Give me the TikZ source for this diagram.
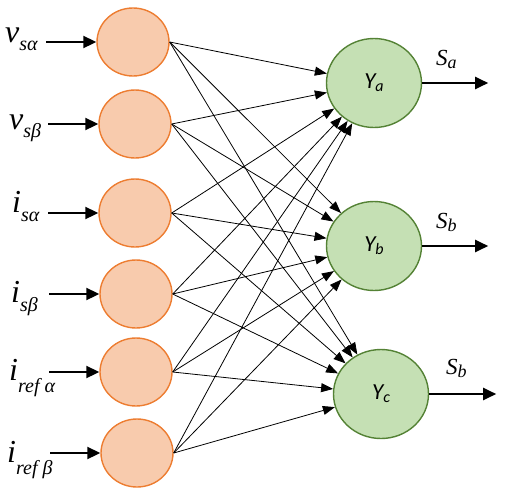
\documentclass[tikz,border=0pt]{standalone}
\usepackage{fontspec}
\setmainfont{Liberation Serif}
\newfontfamily\carlitofont{Carlito}
\usetikzlibrary{arrows.meta,shapes.geometric}
\newcommand{\inlbl}[3]{{\itshape\fontsize{32}{34}\selectfont #1\raisebox{-#3}{\fontsize{20}{22}\selectfont #2}}}
\newcommand{\outlbl}[1]{{\carlitofont\itshape\fontsize{23}{24}\selectfont Y\raisebox{-3pt}{\fontsize{16}{18}\selectfont #1}}}
\newcommand{\slbl}[1]{{\itshape\fontsize{23}{24}\selectfont S\raisebox{-3pt}{\fontsize{18}{19}\selectfont #1}}}
\begin{document}
\begin{tikzpicture}[x=1pt,y=-1pt,
  inneuron/.style={ellipse,draw=inorangeb,fill=inorange,line width=1.4pt,minimum width=72pt,minimum height=68pt,inner sep=0pt},
  outneuron/.style={ellipse,draw=outgreenb,fill=outgreen,line width=1.4pt,minimum width=95pt,minimum height=89pt,inner sep=0pt},
  conn/.style={line width=0.8pt,-{Triangle[length=12pt,width=9pt]}},
  ioarrow/.style={line width=2pt,-{Triangle[length=13pt,width=12pt]}}]
\definecolor{inorange}{RGB}{248,203,173}
\definecolor{inorangeb}{RGB}{237,125,49}
\definecolor{outgreen}{RGB}{197,224,180}
\definecolor{outgreenb}{RGB}{84,130,53}
\useasboundingbox (0,0) rectangle (521,498);
% input neurons
\node[inneuron] (i1) at (133,42) {};
\node[inneuron] (i2) at (135,124) {};
\node[inneuron] (i3) at (135,213) {};
\node[inneuron] (i4) at (136,294) {};
\node[inneuron] (i5) at (136,372) {};
\node[inneuron] (i6) at (137,453) {};
% output neurons
\node[outneuron] (o1) at (374,83) {\outlbl{a}};
\node[outneuron] (o2) at (374,246) {\outlbl{b}};
\node[outneuron] (o3) at (381,394) {\outlbl{c}};
% connections
\foreach \i in {1,...,6}{
  \foreach \o in {1,2,3}{
    \draw[conn] (i\i.east) -- (o\o);
  }
}
% input arrows
\foreach \i in {1,...,6}{
  \coordinate (s\i) at ([xshift=-50pt]i\i.west);
  \draw[ioarrow] (s\i) -- (i\i.west);
}
% input labels
\node[anchor=base west,inner sep=0pt] (l1) at (5,42) {\inlbl{v}{sα}{8pt}};
\node[anchor=base west,inner sep=0pt] (l2) at (9,129) {\inlbl{v}{sβ}{8pt}};
\node[anchor=base west,inner sep=0pt] (l3) at (12,212) {\inlbl{i}{sα}{9pt}};
\node[anchor=base west,inner sep=0pt] (l4) at (11,302) {\inlbl{i}{sβ}{9pt}};
\node[anchor=base west,inner sep=0pt] (l5) at (9,380) {\inlbl{i}{ref α}{12pt}};
\node[anchor=base west,inner sep=0pt] (l6) at (7,462) {\inlbl{i}{ref β}{12pt}};
% outputs
\coordinate (e1) at ([xshift=66pt]o1.east);
\coordinate (e2) at ([xshift=66pt]o2.east);
\coordinate (e3) at ([xshift=67pt]o3.east);
\draw[ioarrow] (o1.east) -- (e1);
\draw[ioarrow] (o2.east) -- (e2);
\draw[ioarrow] (o3.east) -- (e3);
\node[anchor=base west,inner sep=0pt] (sa) at (436,65) {\slbl{a}};
\node[anchor=base west,inner sep=0pt] (sb) at (436,228) {\slbl{b}};
\node[anchor=base west,inner sep=0pt] (sc) at (446,374) {\slbl{b}};
\end{tikzpicture}
\end{document}
